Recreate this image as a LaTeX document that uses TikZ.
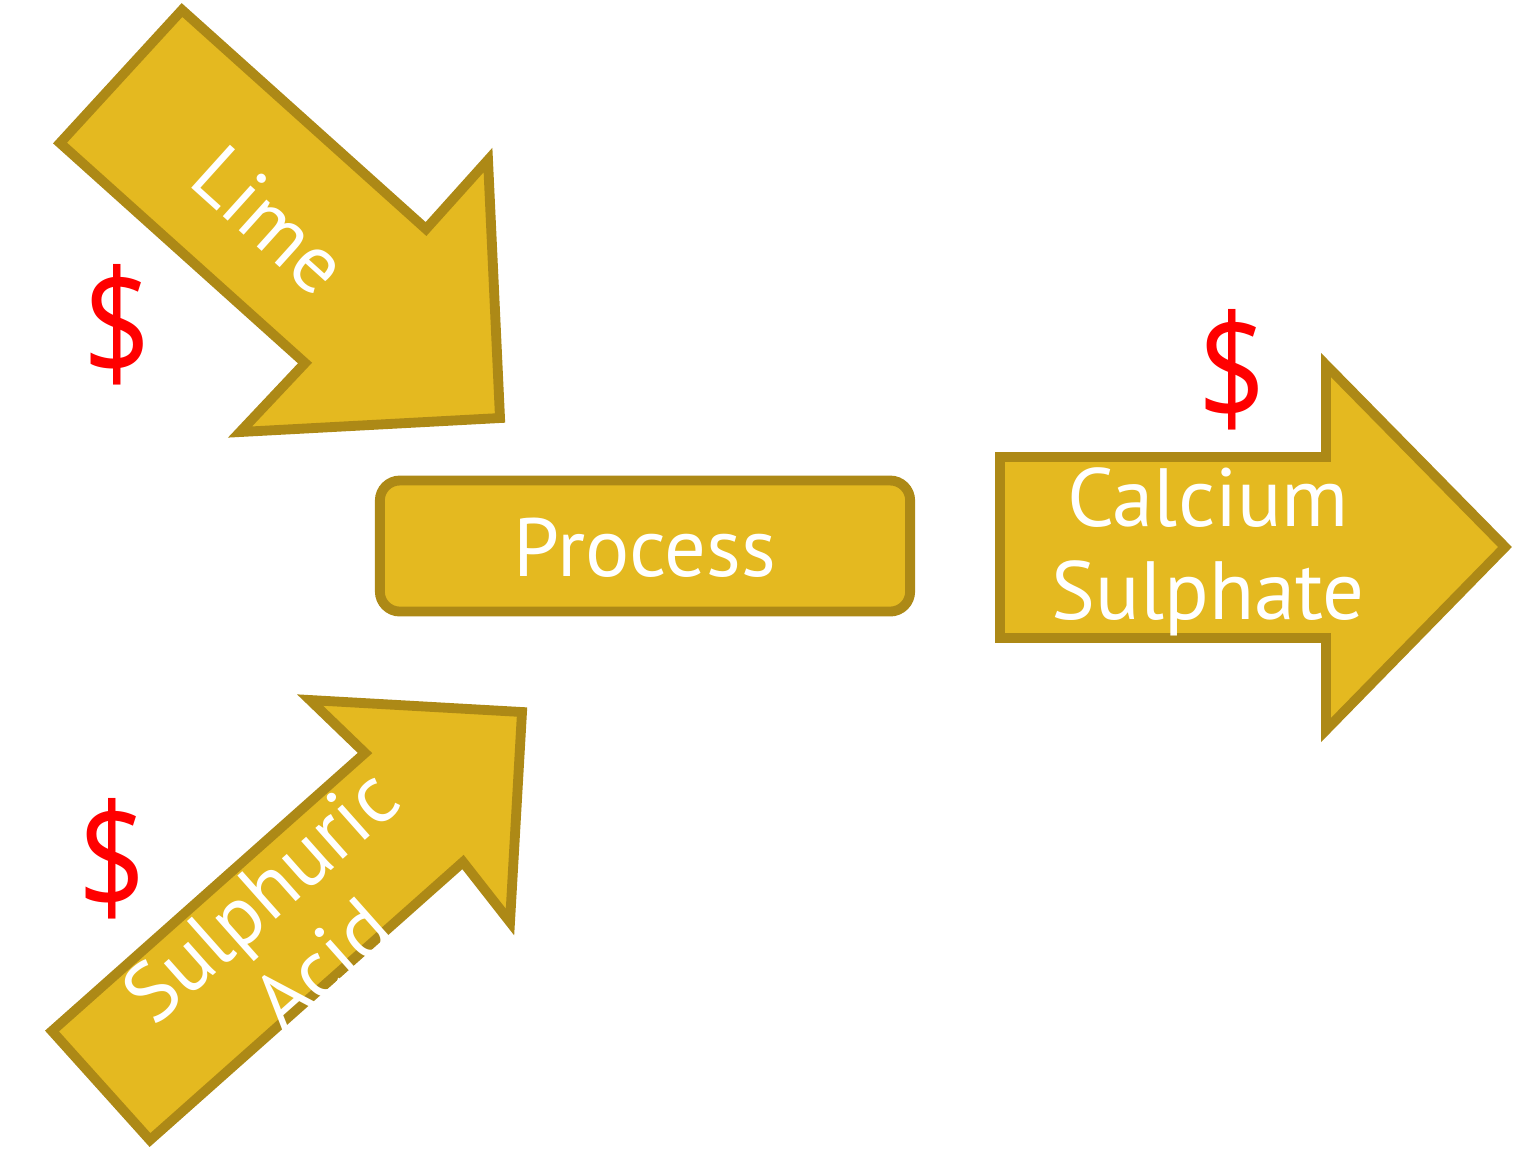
\documentclass[tikz,border=0pt]{standalone}
\usepackage{fontspec}
\setmainfont{PT Sans}
\newfontfamily\costfont[FakeStretch=0.8]{Open Sans}
\usetikzlibrary{positioning}
\definecolor{gold}{RGB}{228,185,32}
\definecolor{goldedge}{RGB}{173,137,22}
\definecolor{dollarred}{RGB}{255,0,0}

\begin{document}
\begin{tikzpicture}[x=0.01cm, y=-0.01cm,
        flow/.style={fill=gold, draw=goldedge, line width=2.8pt, line join=miter},
        label/.style={text=white, font=\fontsize{23.5}{26.5}\selectfont, align=center},
        cost/.style={text=dollarred, font=\costfont\fontsize{42}{42}\selectfont}]
    \useasboundingbox (0,0) rectangle (1519,1150);
    % arrows in
    \draw[flow] (182,10) -- (426,229) -- (488,160) -- (500,418) -- (240,432) -- (305,363) -- (60,143) -- cycle;
    \draw[flow] (310,700) -- (522,712) -- (510,922) -- (463,862) -- (150,1140) -- (52,1031) -- (365,753) -- cycle;
    % arrow out
    \draw[flow] (1000,457) -- (1326,457) -- (1326,365) -- (1505,547) -- (1326,730) -- (1326,638) -- (1000,638) -- cycle;
    \node[flow, rounded corners=5.7pt, minimum width=5.3cm, minimum height=1.31cm] (proc) at (645,546) {};
    \node[label] (proctxt) at (645,548) {Process};
    \node[label, rotate=-42] (lime) at (270,220) {Lime};
    \node[label, rotate=41.6] (acid) at (291,930) {Sulphuric\\Acid};
    \node[label] (sulphate) at (1208,552) {Calcium\\Sulphate};
    % costs
    \node[cost] (cost1) at (117,325) {\$};
    \node[cost] (cost2) at (112,859) {\$};
    \node[cost] (cost3) at (1232,370) {\$};
\end{tikzpicture}
\end{document}
